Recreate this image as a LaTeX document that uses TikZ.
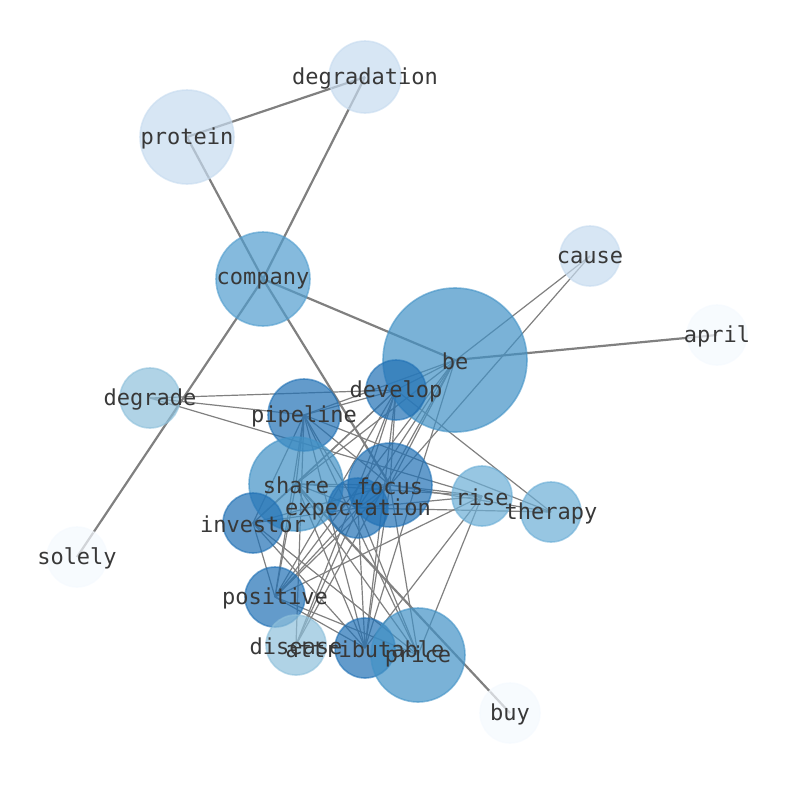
\documentclass[tikz,border=0pt]{standalone}
\usepackage{fontspec}
\setmonofont{DejaVu Sans Mono}
\definecolor{cA}{HTML}{F4F9FE}
\definecolor{cB}{HTML}{C6DBEF}
\definecolor{cC}{HTML}{8EC0DB}
\definecolor{cD}{HTML}{6BAED6}
\definecolor{cE}{HTML}{519DCE}
\definecolor{cEE}{HTML}{4292C6}
\definecolor{cF}{HTML}{2171B5}
\definecolor{lbl}{HTML}{383838}
\begin{document}
\begin{tikzpicture}[x=1pt,y=-1pt,
  vtx/.style={circle,inner sep=0pt,fill opacity=0.7,draw opacity=0.6,line width=1.6pt},
  lab/.style={font=\ttfamily\fontsize{22}{22}\selectfont,text=lbl,inner sep=0pt,yshift=-1.5pt},
  thick edge/.style={draw=gray,line width=2.2pt},
  thin edge/.style={draw=gray,line width=1.2pt}]
\useasboundingbox (0,0) rectangle (794,790);
% positions
\coordinate (p-degradation) at (365,77);
\coordinate (p-protein) at (187,137);
\coordinate (p-company) at (263,279);
\coordinate (p-cause) at (590,256);
\coordinate (p-april) at (717,335);
\coordinate (p-be) at (455,360);
\coordinate (p-degrade) at (150,398);
\coordinate (p-develop) at (396,390);
\coordinate (p-pipeline) at (304,415);
\coordinate (p-share) at (296,484);
\coordinate (p-focus) at (390,485);
\coordinate (p-expectation) at (358,508);
\coordinate (p-rise) at (482,496);
\coordinate (p-therapy) at (551,512);
\coordinate (p-investor) at (253,523);
\coordinate (p-solely) at (77,557);
\coordinate (p-positive) at (275,597);
\coordinate (p-disease) at (296,645);
\coordinate (p-attributable) at (365,648);
\coordinate (p-price) at (418,655);
\coordinate (p-buy) at (510,713);
% thin edges
\foreach \a/\b in {degrade/develop,degrade/pipeline,degrade/rise,
  cause/share,cause/focus,
  be/develop,be/pipeline,be/focus,be/expectation,be/attributable,be/positive,be/disease,
  develop/pipeline,develop/share,develop/focus,develop/expectation,develop/investor,develop/positive,develop/disease,develop/attributable,develop/therapy,
  pipeline/share,pipeline/focus,pipeline/expectation,pipeline/investor,pipeline/positive,pipeline/attributable,pipeline/price,pipeline/therapy,pipeline/disease,
  share/focus,share/expectation,share/investor,share/positive,share/attributable,share/price,share/rise,
  focus/expectation,focus/rise,focus/therapy,focus/attributable,focus/price,focus/positive,focus/investor,
  expectation/rise,expectation/therapy,expectation/attributable,expectation/price,expectation/positive,expectation/investor,expectation/disease,
  investor/positive,investor/attributable,investor/price,
  positive/attributable,positive/price,positive/rise,
  rise/attributable,rise/price}
  \draw[thin edge] (p-\a) -- (p-\b);
% thick edges
\foreach \a/\b in {protein/degradation,degradation/company,protein/company,company/focus,company/be,company/solely,be/april,share/buy}
  \draw[thick edge] (p-\a) -- (p-\b);
% vertices
\foreach \n/\r/\c in {degradation/36/cB,protein/47/cB,company/47/cE,cause/30/cB,april/30/cA,
  be/72/cEE,degrade/30/cC,develop/30/cF,pipeline/36/cF,share/47/cEE,focus/42/cF,
  expectation/30/cF,rise/30/cD,therapy/30/cD,investor/30/cF,solely/30/cA,positive/30/cF,
  disease/30/cC,attributable/30/cF,price/47/cEE,buy/30/cA}
  \node[vtx,minimum size=2*\r pt,fill=\c,draw=\c] (\n) at (p-\n) {};
% labels
\foreach \n in {degradation,protein,company,cause,april,be,degrade,develop,pipeline,share,focus,
  expectation,rise,therapy,investor,solely,positive,disease,attributable,price,buy}
  \node[lab] (l-\n) at (p-\n) {\n};
\end{tikzpicture}
\end{document}
